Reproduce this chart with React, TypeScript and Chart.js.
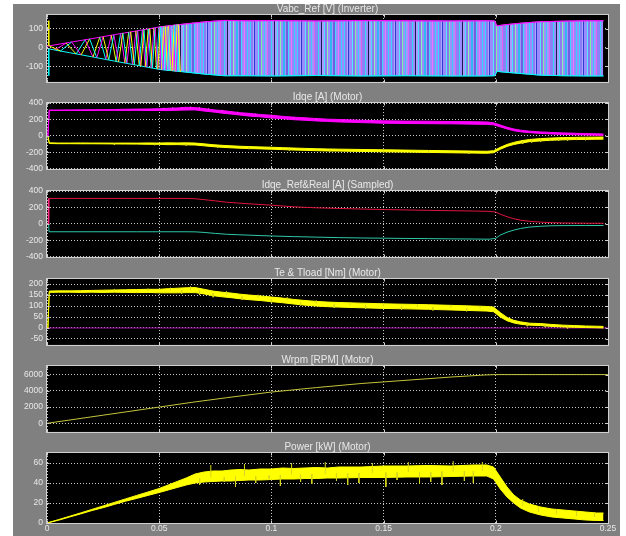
import React, { useEffect, useRef } from 'react';
import { Chart, registerables } from 'chart.js';

Chart.register(...registerables);

// ---------------- data ----------------
const X_TICKS = [0, 0.05, 0.1, 0.15, 0.2, 0.25];

const Y_TICKS_VABC = [-100, 0, 100];
const Y_TICKS_IDQ = [-400, -200, 0, 200, 400];
const Y_TICKS_TE = [-50, 0, 50, 100, 150, 200];
const Y_TICKS_W = [0, 2000, 4000, 6000];
const Y_TICKS_P = [0, 20, 40, 60];

const TITLES = [
  'Vabc_Ref [V] (Inverter)',
  'Idqe [A] (Motor)',
  'Idqe_Ref&Real [A] (Sampled)',
  'Te & Tload [Nm] (Motor)',
  'Wrpm [RPM] (Motor)',
  'Power [kW] (Motor)',
];

// Vabc envelope
const VABC_ENV_T = [0, 0.01, 0.02, 0.03, 0.04, 0.05, 0.06, 0.07, 0.079, 0.09, 0.1, 0.12, 0.14, 0.16, 0.18, 0.195, 0.1995, 0.2005, 0.205, 0.21, 0.215, 0.22, 0.23, 0.24, 0.248];
const VABC_UPPER = [7, 28, 48, 69, 89, 110, 124, 137, 145, 143, 144, 142, 144, 143, 142, 143, 142, 116, 123, 129, 134, 138, 141, 143, 143];
const VABC_LOWER = [-5, -27, -49, -72, -94, -116, -128, -141, -150, -150, -151, -149, -151, -150, -151, -151, -150, -127, -132, -137, -142, -147, -150, -151, -151];
// Vabc early zig-zags (vertices)
const VABC_ZIG_A_T = [0.001, 0.006, 0.011, 0.0152, 0.019, 0.0222, 0.025, 0.0275, 0.0298, 0.0319, 0.0338, 0.0356, 0.0373, 0.0389, 0.0404, 0.0418, 0.0432, 0.0445, 0.0458, 0.047, 0.0482, 0.0494, 0.0505, 0.0516, 0.0527, 0.0537, 0.0547, 0.0557, 0.0567, 0.0576, 0.0585, 0.0594];
const VABC_ZIG_A_V = [9, -18, 30, -39, 46, -54, 58, -66, 68, -76, 77, -84, 84, -91, 90, -98, 96, -104, 101, -109, 106, -115, 111, -119, 114, -122, 118, -125, 121, -128, 124, -131];
const VABC_ZIG_B_T = [0.0035, 0.0085, 0.013, 0.017, 0.0205, 0.0235, 0.0262, 0.0286, 0.0308, 0.0328, 0.0347, 0.0364, 0.0381, 0.0396, 0.0411, 0.0425, 0.0438, 0.0451, 0.0464, 0.0476, 0.0488, 0.0499, 0.051, 0.0521, 0.0532, 0.0542, 0.0552, 0.0562, 0.0571, 0.058, 0.0589];
const VABC_ZIG_B_V = [-12, 24, -34, 42, -50, 55, -63, 66, -73, 75, -82, 82, -90, 89, -96, 95, -102, 100, -108, 105, -113, 110, -117, 113, -121, 116, -124, 120, -127, 123, -130];
const VABC_START_T = [0.0008, 0.0008];
const VABC_START_A = [8, 145];
const VABC_START_C = [-8, -150];

// shared time base of the noisy motor signals
const T_NOISY = [0.0004, 0.001, 0.005, 0.01, 0.015, 0.02, 0.025, 0.03, 0.035, 0.04, 0.045, 0.05, 0.054, 0.058, 0.062, 0.066, 0.07, 0.074, 0.078, 0.082, 0.086, 0.09, 0.095, 0.1, 0.105, 0.11, 0.115, 0.12, 0.125, 0.13, 0.14, 0.15, 0.16, 0.17, 0.18, 0.19, 0.196, 0.199, 0.202, 0.205, 0.208, 0.211, 0.215, 0.22, 0.225, 0.23, 0.235, 0.24, 0.245, 0.248];

const ID_UPPER = [0, 315, 315, 316, 317, 318, 319, 321, 324, 326, 327, 331, 336, 340, 348, 344, 333, 318, 308, 296, 282, 275, 260, 252, 238, 228, 220, 212, 204, 200, 190, 184, 180, 179, 175, 173, 170, 160, 133, 106, 85, 70, 58, 49, 42, 37, 33, 29, 26, 24];
const ID_LOWER = [0, 309, 309, 310, 309, 310, 311, 311, 310, 311, 309, 309, 308, 312, 314, 316, 302, 291, 277, 266, 254, 241, 232, 218, 210, 197, 190, 182, 176, 170, 162, 154, 151, 149, 147, 143, 140, 135, 110, 85, 64, 50, 40, 31, 24, 19, 15, 12, 9, 7];
const ID_SPIKE_T = [0.052, 0.056, 0.06, 0.064, 0.068, 0.072, 0.078, 0.085, 0.093, 0.1, 0.11, 0.12, 0.132, 0.145];
const ID_SPIKE_BASE = [321, 323, 327, 330, 325, 312, 292, 270, 250, 235, 212, 197, 183, 170];
const ID_SPIKE_TIP = [342, 350, 346, 358, 352, 338, 318, 296, 272, 258, 232, 216, 200, 188];

const IQ_UPPER = [0, -84, -86, -86, -85, -86, -86, -87, -86, -87, -85, -86, -84, -85, -84, -86, -96, -106, -114, -120, -125, -129, -133, -137, -142, -147, -151, -155, -158, -160, -164, -168, -172, -176, -180, -184, -186, -180, -138, -103, -78, -60, -43, -32, -25, -20, -17, -15, -14, -13];
const IQ_LOWER = [0, -92, -94, -94, -95, -95, -96, -97, -98, -99, -101, -102, -106, -105, -108, -110, -120, -130, -138, -144, -149, -153, -157, -161, -166, -171, -175, -179, -182, -184, -188, -192, -196, -200, -204, -208, -210, -204, -162, -127, -104, -88, -70, -60, -52, -47, -44, -42, -40, -39];
const IQ_SPIKE_T = [0.03, 0.048, 0.062, 0.076, 0.09, 0.108, 0.126, 0.15, 0.17, 0.188, 0.212, 0.216, 0.22, 0.224, 0.228, 0.232, 0.236, 0.24, 0.244];
const IQ_SPIKE_BASE = [-92, -94, -96, -122, -141, -158, -170, -180, -188, -196, -66, -55, -44, -40, -36, -33, -30, -28, -27];
const IQ_SPIKE_TIP = [-108, -112, -116, -142, -160, -178, -190, -202, -208, -216, -96, -80, -70, -62, -58, -56, -50, -52, -46];

// sampled references
const REF_T = [0.0007, 0.0009, 0.02, 0.04, 0.062, 0.066, 0.07, 0.075, 0.08, 0.085, 0.09, 0.1, 0.11, 0.12, 0.13, 0.14, 0.15, 0.16, 0.17, 0.18, 0.19, 0.197, 0.2, 0.202, 0.205, 0.208, 0.211, 0.215, 0.22, 0.225, 0.23, 0.24, 0.248];
const ID_REF = [0, 310, 310, 310, 310, 306, 295, 280, 264, 254, 245, 228, 208, 196, 188, 181, 175, 170, 165, 161, 157, 153, 145, 118, 88, 64, 46, 32, 22, 16, 12, 9, 8];
const IQ_REF = [0, -95, -95, -95, -95, -96, -103, -115, -125, -131, -136, -146, -154, -160, -166, -170, -173, -176, -178, -181, -183, -185, -175, -135, -100, -75, -55, -38, -28, -22, -20, -19, -19];
const PINK_T = [0.0007, 0.0007];
const PINK_V = [0, 310];

const TE_UPPER = [0, 168, 169, 169, 170, 171, 172, 173, 174, 175, 176, 176, 179, 181, 183, 184, 176, 168, 163, 159, 154, 150, 146, 141, 136, 130, 125, 121, 118, 116, 113, 110, 108, 106, 103, 100, 98, 95, 70, 48, 35, 28, 22, 20, 16, 13, 11, 9, 8, 7];
const TE_LOWER = [0, 162, 163, 163, 162, 163, 162, 163, 162, 161, 162, 160, 160, 160, 161, 161, 155, 147, 142, 138, 133, 129, 125, 120, 115, 109, 104, 100, 97, 95, 92, 89, 87, 85, 82, 79, 77, 74, 50, 33, 23, 17, 13, 11, 7, 5, 3, 2, 1, 0];
const TE_SPIKE_T = [0.03, 0.045, 0.055, 0.06, 0.064, 0.068, 0.074, 0.08, 0.087, 0.094, 0.1, 0.107, 0.113, 0.12, 0.128, 0.135, 0.142, 0.15, 0.158, 0.165, 0.172, 0.18, 0.187, 0.193, 0.214, 0.222, 0.232];
const TE_SPIKE_BASE = [168, 169, 170, 171, 172, 172, 158, 151, 143, 137, 131, 125, 118, 111, 107, 104, 102, 100, 98, 97, 95, 93, 91, 89, 20, 14, 9];
const TE_SPIKE_TIP = [178, 180, 184, 156, 190, 150, 140, 168, 128, 152, 115, 141, 103, 126, 92, 118, 88, 114, 84, 109, 80, 105, 76, 101, 8, 4, -2];
const TLOAD_T = [0, 0.25];
const TLOAD_V = [0, 0];

const W_T = [0, 0.025, 0.05, 0.065, 0.08, 0.1, 0.12, 0.14, 0.16, 0.18, 0.195, 0.2, 0.25];
const W_RPM = [0, 1000, 2000, 2600, 3150, 3850, 4400, 4900, 5300, 5700, 5950, 6000, 6000];

const P_UPPER = [0, 0.7, 3.3, 6.7, 10.1, 13.6, 17.1, 20.6, 24.1, 27.6, 31, 34.5, 38, 41.5, 45, 49, 51, 52, 52, 53, 53.5, 53, 54, 54, 55, 54.5, 55, 55.5, 55, 56, 56, 57, 57, 57.5, 57, 58, 58, 56, 46, 36, 28, 23, 19, 16, 14, 13, 12, 11, 10, 10];
const P_LOWER = [0, 0.5, 2.7, 5.9, 9.1, 12.4, 15.3, 18.6, 21.8, 24.6, 27.6, 30.5, 33, 35.5, 38, 40, 41, 41.5, 42, 42, 42.5, 43, 43, 43.5, 44, 44, 44.5, 44.5, 45, 45, 45.5, 45.5, 46, 46, 46.5, 47, 47, 44, 34, 26, 20, 15, 11, 8, 6, 5, 4, 3, 2.5, 2.5];
const P_SPIKE_T = [0.068, 0.073, 0.079, 0.084, 0.088, 0.093, 0.099, 0.104, 0.109, 0.113, 0.118, 0.124, 0.129, 0.134, 0.139, 0.145, 0.151, 0.156, 0.161, 0.166, 0.171, 0.176, 0.181, 0.186, 0.19, 0.194, 0.212, 0.219, 0.227, 0.236, 0.244];
const P_SPIKE_BASE = [45, 45.5, 46, 46.5, 47, 47, 47.5, 48, 48.5, 48.5, 49, 49, 49.5, 49.5, 50, 50, 50.5, 50.5, 51, 51, 51, 51.5, 51.5, 52, 52, 52, 17, 11, 9, 7, 6];
const P_SPIKE_TIP = [38, 58, 41, 36, 59, 40, 44, 37, 60, 41, 39, 61, 42, 38, 40, 60, 36, 43, 61, 39, 41, 38, 62, 42, 40, 61, 24, 17, 14, 12, 11];

// ---------------- styles ----------------
const FONT = "'Liberation Sans', Arial, Helvetica, sans-serif";
const BG_GREY = '#808080';
const FRAME = '#d0d0d0';
const GRID = '#c8c8c8';
const TXT = '#e8e8e8';
const YELLOW = '#ffff00';
const YELLOW_DIM = '#d6d61c';
const MAGENTA = '#ff00ff';
const CYAN = '#00ffff';
const STRIPES: [string, number][] = [
  ['#9a8cff', 2], ['#3cd2ff', 1], ['#8a7cf4', 2], ['#b0a4ff', 1], ['#2a3ccc', 1], ['#9a8cff', 3], ['#54e8ff', 1],
  ['#8878f0', 2], ['#7ff0a0', 1], ['#9c90ff', 2], ['#3cc8f8', 1], ['#a494ff', 2], ['#e060f0', 1], ['#8c80f8', 3],
  ['#34d8f0', 1], ['#9a8cff', 2], ['#1a1a50', 1], ['#a89cff', 2], ['#48e0ff', 1], ['#8c7cf0', 2], ['#90f0b0', 1],
  ['#9a8cff', 2], ['#30b8f0', 2], ['#a092ff', 1], ['#7060e0', 2], ['#40d8ff', 1], ['#9c8eff', 2], ['#f070ff', 1],
  ['#9488fa', 2], ['#38d0ff', 1],
];

const CANVAS_LEFT = 13;
const CANVAS_W = 606;
const TOP_PAD = 14;

// ---------------- helpers ----------------
const pts = (xs: number[], ys: number[]) => xs.map((x, i) => ({ x, y: ys[i] }));
const line = (data: any[], color: string, extra: any = {}) => ({
  data,
  borderColor: color,
  backgroundColor: color,
  borderWidth: 1,
  pointRadius: 0,
  fill: false,
  tension: 0,
  ...extra,
});
const band = (xs: number[], up: number[], lo: number[], color: string) => [
  line(pts(xs, up), color, { fill: '+1', backgroundColor: color }),
  line(pts(xs, lo), color),
];
const spikes = (xs: number[], base: number[], tip: number[], color: string) =>
  line(
    xs.flatMap((x, i) => [{ x, y: base[i] }, { x, y: tip[i] }, { x, y: null }]),
    color,
    { spanGaps: false },
  );

function makeStripePattern(): CanvasPattern | string {
  const total = STRIPES.reduce((s, [, w]) => s + w, 0);
  const c = document.createElement('canvas');
  c.width = total;
  c.height = 2;
  const g = c.getContext('2d');
  if (!g) return '#9088ff';
  let x = 0;
  for (const [col, w] of STRIPES) {
    g.fillStyle = col;
    g.fillRect(x, 0, w, 2);
    x += w;
  }
  return g.createPattern(c, 'repeat') || '#9088ff';
}

const ZIG_A_COLORS = [YELLOW, CYAN, MAGENTA];
const ZIG_B_COLORS = [MAGENTA, YELLOW, CYAN];

type PanelCfg = {
  title: string;
  top: number;
  height: number;
  yMin: number;
  yMax: number;
  yTicks: number[];
  showX: boolean;
  datasets: () => any[];
};

const DENSE_FROM = 5;

const PANELS: PanelCfg[] = [
  {
    title: TITLES[0], top: 15, height: 70, yMin: -183, yMax: 174, yTicks: Y_TICKS_VABC, showX: false,
    datasets: () => {
      const pattern = makeStripePattern();
      return [
        line(pts(VABC_START_T, VABC_START_A), YELLOW, { borderWidth: 1.5 }),
        line(pts(VABC_START_T, VABC_START_C), CYAN, { borderWidth: 1.5 }),
        line(pts(VABC_ZIG_A_T, VABC_ZIG_A_V), YELLOW, {
          segment: { borderColor: (c: any) => ZIG_A_COLORS[c.p0DataIndex % 3] },
        }),
        line(pts(VABC_ZIG_B_T, VABC_ZIG_B_V), MAGENTA, {
          segment: { borderColor: (c: any) => ZIG_B_COLORS[c.p0DataIndex % 3] },
        }),
        line(pts(VABC_ENV_T, VABC_UPPER), MAGENTA),
        line(pts(VABC_ENV_T, VABC_LOWER), CYAN),
        line(pts(VABC_ENV_T.slice(DENSE_FROM), VABC_UPPER.slice(DENSE_FROM)), '#c070ff', { fill: '+1', backgroundColor: pattern }),
        line(pts(VABC_ENV_T.slice(DENSE_FROM), VABC_LOWER.slice(DENSE_FROM)), '#40c8ff'),
      ];
    },
  },
  {
    title: TITLES[1], top: 103, height: 69, yMin: -400, yMax: 400, yTicks: Y_TICKS_IDQ, showX: false,
    datasets: () => [
      spikes(ID_SPIKE_T, ID_SPIKE_BASE, ID_SPIKE_TIP, '#ff30ff'),
      ...band(T_NOISY, ID_UPPER, ID_LOWER, MAGENTA),
      spikes(IQ_SPIKE_T, IQ_SPIKE_BASE, IQ_SPIKE_TIP, YELLOW_DIM),
      ...band(T_NOISY, IQ_UPPER, IQ_LOWER, YELLOW),
    ],
  },
  {
    title: TITLES[2], top: 191, height: 69, yMin: -400, yMax: 400, yTicks: Y_TICKS_IDQ, showX: false,
    datasets: () => [
      line(pts(PINK_T, PINK_V), '#ff2a8a', { borderWidth: 1.5 }),
      line(pts(REF_T, ID_REF), '#e0143c'),
      line(pts(REF_T, IQ_REF), '#2ec8a8'),
    ],
  },
  {
    title: TITLES[3], top: 279, height: 69, yMin: -77, yMax: 223, yTicks: Y_TICKS_TE, showX: false,
    datasets: () => [
      spikes(TE_SPIKE_T, TE_SPIKE_BASE, TE_SPIKE_TIP, YELLOW_DIM),
      ...band(T_NOISY, TE_UPPER, TE_LOWER, YELLOW),
      line(pts(TLOAD_T, TLOAD_V), '#a010a0'),
    ],
  },
  {
    title: TITLES[4], top: 366, height: 69, yMin: -1060, yMax: 7060, yTicks: Y_TICKS_W, showX: false,
    datasets: () => [line(pts(W_T, W_RPM), '#c4c43c')],
  },
  {
    title: TITLES[5], top: 453, height: 70, yMin: 0, yMax: 70, yTicks: Y_TICKS_P, showX: true,
    datasets: () => [
      spikes(P_SPIKE_T, P_SPIKE_BASE, P_SPIKE_TIP, YELLOW_DIM),
      ...band(T_NOISY, P_UPPER, P_LOWER, YELLOW),
    ],
  },
];

const scopePlugin = {
  id: 'scopeFrame',
  beforeDraw(chart: any) {
    const { ctx, chartArea: a } = chart;
    ctx.save();
    ctx.fillStyle = '#000000';
    ctx.fillRect(a.left, a.top, a.right - a.left, a.bottom - a.top);
    ctx.restore();
  },
  afterDraw(chart: any, _args: any, opts: any) {
    const { ctx, chartArea: a } = chart;
    const xs = chart.scales.x;
    const ys = chart.scales.y;
    ctx.save();
    ctx.strokeStyle = FRAME;
    ctx.lineWidth = 1;
    const l = Math.round(a.left) - 0.5;
    const r = Math.round(a.right) + 0.5;
    const t = Math.round(a.top) - 0.5;
    const b = Math.round(a.bottom) + 0.5;
    ctx.strokeRect(l, t, r - l, b - t);
    ctx.beginPath();
    for (const tk of ys.ticks) {
      const y = Math.round(ys.getPixelForValue(tk.value)) + 0.5;
      ctx.moveTo(l, y); ctx.lineTo(l + 3, y);
      ctx.moveTo(r, y); ctx.lineTo(r - 3, y);
    }
    for (const tk of xs.ticks) {
      const x = Math.round(xs.getPixelForValue(tk.value)) + 0.5;
      ctx.moveTo(x, t); ctx.lineTo(x, t + 3);
      ctx.moveTo(x, b); ctx.lineTo(x, b - 3);
    }
    ctx.stroke();
    ctx.fillStyle = TXT;
    ctx.font = `10px ${FONT}`;
    ctx.textAlign = 'center';
    ctx.textBaseline = 'middle';
    ctx.fillText(opts.title, (a.left + a.right) / 2, a.top - 6);
    ctx.restore();
  },
};

function buildConfig(p: PanelCfg): any {
  const tickFont = { family: FONT, size: 8.5 };
  return {
    type: 'line',
    data: { datasets: p.datasets() },
    plugins: [scopePlugin],
    options: {
      animation: false,
      responsive: false,
      maintainAspectRatio: false,
      events: [],
      layout: { padding: { top: TOP_PAD, right: 11, left: 0, bottom: 0 } },
      plugins: {
        legend: { display: false },
        tooltip: { enabled: false },
        title: { display: false },
        scopeFrame: { title: p.title },
      },
      scales: {
        x: {
          type: 'linear',
          min: 0,
          max: 0.25,
          afterBuildTicks: (s: any) => { s.ticks = X_TICKS.map((v) => ({ value: v })); },
          afterFit: (s: any) => { s.height = p.showX ? 13 : 6; },
          grid: { color: GRID, drawTicks: false, lineWidth: 1 },
          border: { display: false, dash: [1, 2] },
          ticks: {
            display: p.showX,
            color: TXT,
            font: tickFont,
            padding: 1,
            maxRotation: 0,
            autoSkip: false,
            callback: (v: number) => String(v),
          },
        },
        y: {
          type: 'linear',
          min: p.yMin,
          max: p.yMax,
          afterBuildTicks: (s: any) => { s.ticks = p.yTicks.map((v) => ({ value: v })); },
          afterFit: (s: any) => { s.width = 34; },
          grid: { color: GRID, drawTicks: false, lineWidth: 1 },
          border: { display: false, dash: [1, 2] },
          ticks: {
            color: TXT,
            font: tickFont,
            padding: 4,
            autoSkip: false,
            callback: (v: number) => String(v),
          },
        },
      },
    },
  };
}

function ScopePanel({ cfg }: { cfg: PanelCfg }) {
  const ref = useRef<HTMLCanvasElement | null>(null);
  const h = TOP_PAD + cfg.height + (cfg.showX ? 13 : 6);
  useEffect(() => {
    const canvas = ref.current;
    if (!canvas) return;
    const chart = new Chart(canvas, buildConfig(cfg));
    return () => chart.destroy();
  }, [cfg]);
  return (
    <canvas
      ref={ref}
      width={CANVAS_W}
      height={h}
      style={{ position: 'absolute', left: CANVAS_LEFT, top: cfg.top - TOP_PAD, width: CANVAS_W, height: h }}
    />
  );
}

export default function App() {
  return (
    <div style={{ position: 'absolute', left: 0, top: 0, width: 626, height: 536, background: '#ffffff', overflow: 'hidden' }}>
      <div style={{ position: 'absolute', left: 13, top: 4, width: 607, height: 532, background: BG_GREY }} />
      {PANELS.map((p, i) => (
        <ScopePanel key={i} cfg={p} />
      ))}
    </div>
  );
}
